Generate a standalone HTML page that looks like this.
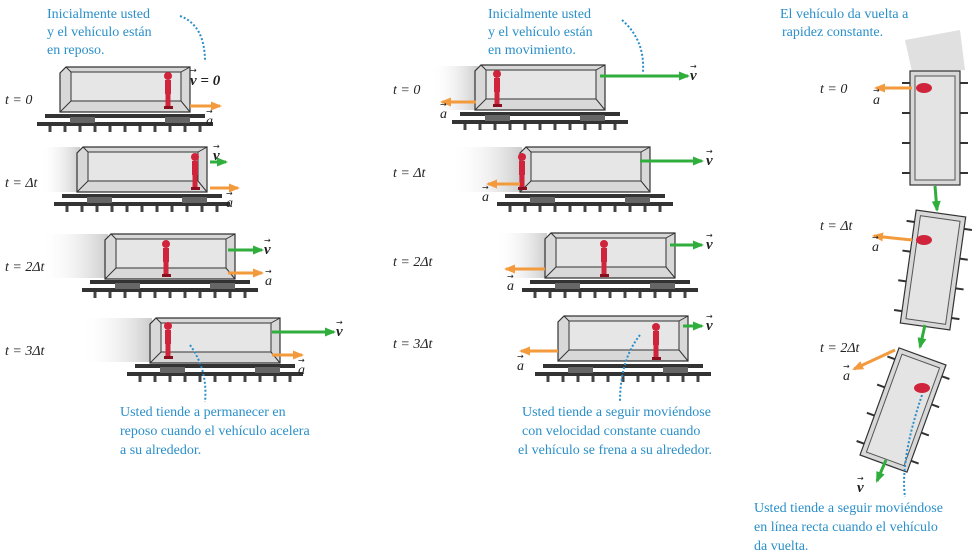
<!DOCTYPE html>
<html><head><meta charset="utf-8"><style>
body{margin:0;background:#fff}
svg{display:block}
.b{fill:#2a8fc9;font-family:"Liberation Serif",serif;font-size:14px}
.t{fill:#222;font-family:"Liberation Serif",serif;font-size:14px;font-style:italic}
.v{fill:#222;font-family:"Liberation Serif",serif;font-size:15px;font-weight:bold;font-style:italic}
.ar{fill:#222;font-family:"DejaVu Sans",sans-serif;font-size:8px}
</style></head><body>
<svg width="972" height="555" viewBox="0 0 972 555">
<defs>
<linearGradient id="blur" x1="0" x2="1"><stop offset="0" stop-color="#fff" stop-opacity="0"/><stop offset="1" stop-color="#ccc"/></linearGradient>
<g id="car">
<polygon points="6,0 130,0 130,45 0,45 0,6" fill="#d8d8d8" stroke="#333" stroke-width="1.2"/>
<rect x="11" y="5" width="110" height="29" fill="#e6e6e6" stroke="#333" stroke-width="1"/>
<line x1="0" y1="45" x2="11" y2="34" stroke="#333"/><line x1="130" y1="45" x2="121" y2="34" stroke="#333"/>
<line x1="6" y1="0" x2="11" y2="5" stroke="#333"/><line x1="130" y1="0" x2="121" y2="5" stroke="#333"/>
</g>
<g id="track">
<rect x="-20" y="0" width="160" height="4" fill="#333"/>
<rect x="-28" y="8" width="176" height="4" fill="#333"/>
<g stroke="#444" stroke-width="3"><line x1="-15" y1="12" x2="-15" y2="18"/><line x1="0" y1="12" x2="0" y2="18"/><line x1="15" y1="12" x2="15" y2="18"/><line x1="30" y1="12" x2="30" y2="18"/><line x1="45" y1="12" x2="45" y2="18"/><line x1="60" y1="12" x2="60" y2="18"/><line x1="75" y1="12" x2="75" y2="18"/><line x1="90" y1="12" x2="90" y2="18"/><line x1="105" y1="12" x2="105" y2="18"/><line x1="120" y1="12" x2="120" y2="18"/><line x1="135" y1="12" x2="135" y2="18"/></g>
<rect x="5" y="3" width="25" height="6" fill="#666"/><rect x="100" y="3" width="25" height="6" fill="#666"/>
</g>
<g id="person"><circle cx="0" cy="4" r="4" fill="#d0243c"/><rect x="-3" y="8" width="6" height="14" fill="#d0243c"/><rect x="-2.5" y="22" width="5" height="12" fill="#d0243c"/><rect x="-4" y="34" width="9" height="3" fill="#8a1020"/></g>
<g id="vcar">
<rect x="-25" y="-57" width="50" height="114" fill="#d8d8d8" stroke="#333" stroke-width="1.2"/>
<rect x="-20" y="-52" width="40" height="104" fill="#e4e4e4" stroke="#555"/>
<g stroke="#333" stroke-width="2"><line x1="-33" y1="-45" x2="-25" y2="-45"/><line x1="-33" y1="-15" x2="-25" y2="-15"/><line x1="-33" y1="15" x2="-25" y2="15"/><line x1="-33" y1="45" x2="-25" y2="45"/><line x1="25" y1="-45" x2="33" y2="-45"/><line x1="25" y1="-15" x2="33" y2="-15"/><line x1="25" y1="15" x2="33" y2="15"/><line x1="25" y1="45" x2="33" y2="45"/></g>
</g>
<marker id="ao" markerUnits="userSpaceOnUse" markerWidth="11" markerHeight="9" refX="9" refY="4.5" orient="auto"><path d="M0,0L11,4.5L0,9z" fill="#f39a3c"/></marker>
<marker id="ag" markerUnits="userSpaceOnUse" markerWidth="11" markerHeight="9" refX="9" refY="4.5" orient="auto"><path d="M0,0L11,4.5L0,9z" fill="#2fae3c"/></marker>
</defs>

<!-- Panel 1 -->
<g>
<text class="b" x="47" y="18">Inicialmente usted</text><text class="b" x="47" y="36">y el vehículo están</text><text class="b" x="47" y="54">en reposo.</text>
<path d="M180,16 Q205,25 205,62" fill="none" stroke="#2a8fc9" stroke-width="2" stroke-dasharray="2,2"/>
<text class="t" x="5" y="104">t = 0</text><text class="t" x="5" y="187">t = Δt</text><text class="t" x="5" y="271">t = 2Δt</text><text class="t" x="5" y="355">t = 3Δt</text>
<use href="#track" x="65" y="114"/><use href="#car" x="60" y="67"/><use href="#person" x="168" y="72"/>
<text class="v" x="190" y="85">v = 0</text><text class="ar" x="190" y="73">→</text>
<line x1="190" y1="106" x2="220" y2="106" stroke="#f39a3c" stroke-width="3" marker-end="url(#ao)"/><text class="t" x="206" y="125">a</text><text class="ar" x="206" y="114">→</text>
<rect x="40" y="147" width="40" height="45" fill="url(#blur)"/>
<use href="#track" x="82" y="194"/><use href="#car" x="77" y="147"/><use href="#person" x="195" y="153"/>
<line x1="210" y1="162" x2="226" y2="162" stroke="#2fae3c" stroke-width="3" marker-end="url(#ag)"/><text class="v" x="213" y="160">v</text><text class="ar" x="213" y="149">→</text>
<line x1="210" y1="188" x2="238" y2="188" stroke="#f39a3c" stroke-width="3" marker-end="url(#ao)"/><text class="t" x="226" y="207">a</text><text class="ar" x="226" y="196">→</text>
<rect x="40" y="234" width="68" height="44" fill="url(#blur)"/>
<use href="#track" x="110" y="280"/><use href="#car" x="105" y="234"/><use href="#person" x="166" y="240"/>
<line x1="228" y1="250" x2="262" y2="250" stroke="#2fae3c" stroke-width="3" marker-end="url(#ag)"/><text class="v" x="264" y="254">v</text><text class="ar" x="264" y="243">→</text>
<line x1="228" y1="273" x2="262" y2="273" stroke="#f39a3c" stroke-width="3" marker-end="url(#ao)"/><text class="t" x="265" y="285">a</text><text class="ar" x="265" y="274">→</text>
<rect x="80" y="318" width="72" height="44" fill="url(#blur)"/>
<use href="#track" x="155" y="364"/><use href="#car" x="150" y="318"/><use href="#person" x="168" y="322"/>
<line x1="272" y1="332" x2="334" y2="332" stroke="#2fae3c" stroke-width="3" marker-end="url(#ag)"/><text class="v" x="336" y="336">v</text><text class="ar" x="336" y="325">→</text>
<line x1="272" y1="355" x2="302" y2="355" stroke="#f39a3c" stroke-width="3" marker-end="url(#ao)"/><text class="t" x="298" y="374">a</text><text class="ar" x="298" y="363">→</text>
<path d="M190,345 Q208,370 205,402" fill="none" stroke="#2a8fc9" stroke-width="2" stroke-dasharray="2,2"/>
<text class="b" x="120" y="416">Usted tiende a permanecer en</text><text class="b" x="120" y="435">reposo cuando el vehículo acelera</text><text class="b" x="120" y="454">a su alrededor.</text>
</g>

<!-- Panel 2 -->
<g>
<text class="b" x="488" y="18">Inicialmente usted</text><text class="b" x="488" y="36">y el vehículo están</text><text class="b" x="488" y="54">en movimiento.</text>
<path d="M622,20 Q645,40 643,72" fill="none" stroke="#2a8fc9" stroke-width="2" stroke-dasharray="2,2"/>
<text class="t" x="393" y="94">t = 0</text><text class="t" x="393" y="177">t = Δt</text><text class="t" x="393" y="266">t = 2Δt</text><text class="t" x="393" y="348">t = 3Δt</text>
<rect x="430" y="66" width="48" height="44" fill="url(#blur)"/>
<use href="#track" x="480" y="112"/><use href="#car" x="475" y="65"/><use href="#person" x="497" y="70"/>
<line x1="600" y1="76" x2="688" y2="76" stroke="#2fae3c" stroke-width="3" marker-end="url(#ag)"/><text class="v" x="690" y="80">v</text><text class="ar" x="690" y="69">→</text>
<line x1="476" y1="102" x2="442" y2="102" stroke="#f39a3c" stroke-width="3" marker-end="url(#ao)"/><text class="t" x="440" y="118">a</text><text class="ar" x="440" y="107">→</text>
<rect x="450" y="147" width="72" height="45" fill="url(#blur)"/>
<use href="#track" x="525" y="194"/><use href="#car" x="520" y="147"/><use href="#person" x="522" y="153"/>
<line x1="640" y1="161" x2="702" y2="161" stroke="#2fae3c" stroke-width="3" marker-end="url(#ag)"/><text class="v" x="706" y="165">v</text><text class="ar" x="706" y="154">→</text>
<line x1="520" y1="184" x2="488" y2="184" stroke="#f39a3c" stroke-width="3" marker-end="url(#ao)"/><text class="t" x="482" y="201">a</text><text class="ar" x="482" y="190">→</text>
<rect x="495" y="233" width="52" height="45" fill="url(#blur)"/>
<use href="#track" x="550" y="280"/><use href="#car" x="545" y="233"/><use href="#person" x="604" y="240"/>
<line x1="670" y1="245" x2="702" y2="245" stroke="#2fae3c" stroke-width="3" marker-end="url(#ag)"/><text class="v" x="706" y="249">v</text><text class="ar" x="706" y="238">→</text>
<line x1="545" y1="269" x2="506" y2="269" stroke="#f39a3c" stroke-width="3" marker-end="url(#ao)"/><text class="t" x="507" y="290">a</text><text class="ar" x="507" y="279">→</text>
<use href="#track" x="563" y="364"/><use href="#car" x="558" y="316"/><use href="#person" x="656" y="323"/>
<line x1="683" y1="326" x2="702" y2="326" stroke="#2fae3c" stroke-width="3" marker-end="url(#ag)"/><text class="v" x="706" y="330">v</text><text class="ar" x="706" y="319">→</text>
<line x1="558" y1="351" x2="521" y2="351" stroke="#f39a3c" stroke-width="3" marker-end="url(#ao)"/><text class="t" x="517" y="370">a</text><text class="ar" x="517" y="359">→</text>
<path d="M640,335 Q620,360 620,402" fill="none" stroke="#2a8fc9" stroke-width="2" stroke-dasharray="2,2"/>
<text class="b" x="522" y="416">Usted tiende a seguir moviéndose</text><text class="b" x="522" y="435">con velocidad constante cuando</text><text class="b" x="518" y="454">el vehículo se frena a su alrededor.</text>
</g>

<!-- Panel 3 -->
<g>
<text class="b" x="780" y="18">El vehículo da vuelta a</text><text class="b" x="782" y="36">rapidez constante.</text>
<polygon points="905,40 960,30 965,70 912,72" fill="#ccc" opacity="0.6"/>
<text class="t" x="820" y="93">t = 0</text><text class="t" x="820" y="230">t = Δt</text><text class="t" x="820" y="352">t = 2Δt</text>
<use href="#vcar" transform="translate(935,128)"/>
<use href="#vcar" transform="translate(933,270) rotate(8)"/>
<use href="#vcar" transform="translate(903,410) rotate(20)"/>
<ellipse cx="924" cy="88" rx="8" ry="5" fill="#d0243c"/><ellipse cx="924" cy="240" rx="8" ry="5" fill="#d0243c"/><ellipse cx="922" cy="388" rx="8" ry="5" fill="#d0243c"/>
<line x1="912" y1="88" x2="876" y2="88" stroke="#f39a3c" stroke-width="3" marker-end="url(#ao)"/><text class="t" x="873" y="104">a</text><text class="ar" x="873" y="93">→</text>
<line x1="935" y1="186" x2="937" y2="210" stroke="#2fae3c" stroke-width="3" marker-end="url(#ag)"/>
<line x1="912" y1="240" x2="874" y2="236" stroke="#f39a3c" stroke-width="3" marker-end="url(#ao)"/><text class="t" x="872" y="251">a</text><text class="ar" x="872" y="240">→</text>
<line x1="925" y1="325" x2="920" y2="347" stroke="#2fae3c" stroke-width="3" marker-end="url(#ag)"/>
<line x1="895" y1="350" x2="854" y2="369" stroke="#f39a3c" stroke-width="3" marker-end="url(#ao)"/><text class="t" x="843" y="380">a</text><text class="ar" x="843" y="369">→</text>
<line x1="886" y1="460" x2="877" y2="481" stroke="#2fae3c" stroke-width="3" marker-end="url(#ag)"/><text class="v" x="857" y="492">v</text><text class="ar" x="857" y="481">→</text>
<path d="M922,395 Q900,460 905,497" fill="none" stroke="#2a8fc9" stroke-width="2" stroke-dasharray="2,2"/>
<text class="b" x="754" y="512">Usted tiende a seguir moviéndose</text><text class="b" x="754" y="531">en línea recta cuando el vehículo</text><text class="b" x="754" y="550">da vuelta.</text>
</g>
</svg>
</body></html>
